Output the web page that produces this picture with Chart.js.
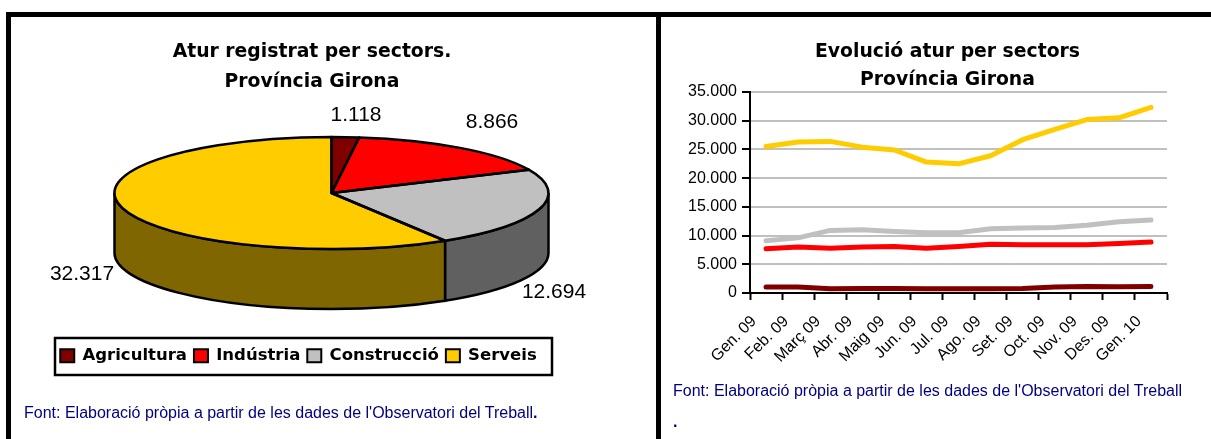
<!DOCTYPE html>
<html>
<head>
<meta charset="utf-8">
<title>Atur per sectors</title>
<script src="https://cdn.jsdelivr.net/npm/chart.js@4/dist/chart.umd.min.js"></script>
<style>
    html, body { margin: 0; padding: 0; background: #fff; overflow: hidden; }
    body { position: relative; width: 1211px; height: 439px; }
    canvas { position: absolute; top: 0; }
    #pieChart { left: 0; }
    #lineChart { left: 684px; }
    .bar { position: absolute; background: #000; }
    .font { position: absolute; color: #000080; font: 16px "Liberation Sans", Arial, sans-serif; white-space: nowrap; }
    .dot { font-weight: bold; }
</style>
</head>
<body>
<canvas id="pieChart" width="624" height="439"></canvas>
<canvas id="lineChart" width="527" height="439"></canvas>
<div class="bar" style="left:6px;top:12px;width:1205px;height:5px"></div>
<div class="bar" style="left:6px;top:12px;width:5px;height:427px"></div>
<div class="bar" style="left:656px;top:12px;width:5px;height:427px"></div>
<div class="font" style="left:24px;top:404px">Font: Elaboració pròpia a partir de les dades de l'Observatori del Treball<span class="dot">.</span></div>
<div class="font" style="left:673px;top:382px">Font: Elaboració pròpia a partir de les dades de l'Observatori del Treball</div>
<div class="font dot" style="left:673px;top:413px">.</div>
<script>
const sectors = ['Agricultura', 'Indústria', 'Construcció', 'Serveis'];
const sectorValues = [1118, 8866, 12694, 32317];
const sectorColors = ['#800000', '#ff0000', '#c0c0c0', '#ffcc00'];

const months = ['Gen. 09', 'Feb. 09', 'Març 09', 'Abr. 09', 'Maig 09', 'Jun. 09', 'Jul. 09', 'Ago. 09', 'Set. 09', 'Oct. 09', 'Nov. 09', 'Des. 09', 'Gen. 10'];
const agricultura = [1050, 1050, 750, 800, 800, 750, 750, 750, 800, 1050, 1150, 1100, 1118];
const industria = [7700, 8000, 7800, 8000, 8100, 7800, 8100, 8500, 8400, 8400, 8400, 8600, 8866];
const construccio = [9100, 9600, 10900, 11000, 10700, 10500, 10500, 11200, 11300, 11400, 11800, 12400, 12694];
const serveis = [25500, 26300, 26400, 25400, 24900, 22800, 22500, 23900, 26700, 28500, 30200, 30500, 32317];

// on-screen ellipse of the pie top, and where its value labels sit
const pieBox = { x: 331.5, y: 193, rx: 217, ry: 56, depth: 60 };
const labelSpots = [[356, 115], [492, 122], [554, 292], [82, 274]];
const legendRect = { left: 55, top: 338, right: 552, bottom: 375 };

function dotted(value) {
    return String(value).replace(/\B(?=(\d{3})+$)/g, '.');
}

function halfColor(hex) {
    const n = parseInt(hex.slice(1), 16);
    return `rgb(${(n >> 16 & 255) >> 1}, ${(n >> 8 & 255) >> 1}, ${(n & 255) >> 1})`;
}

const pie3d = {
    id: 'pie3d',
    afterLayout(chart) {
        // the legend gets a fixed framed box instead of the full chart width
        Object.assign(chart.legend, legendRect);
        chart.legend.left -= 5;
        chart.legend.right -= 5;
        chart.legend.top += 2.5;
    },
    beforeDatasetsDraw(chart) {
        const ctx = chart.ctx;
        const arcs = chart.getDatasetMeta(0).data;
        ctx.save();
        ctx.lineWidth = 2.5;
        ctx.strokeStyle = '#000';
        arcs.forEach(function (arc) {
            const from = Math.max(arc.startAngle, 0);
            const to = Math.min(arc.endAngle, Math.PI);
            if (to <= from) {
                return;
            }
            ctx.beginPath();
            ctx.ellipse(pieBox.x, pieBox.y, pieBox.rx, pieBox.ry, 0, from, to);
            ctx.ellipse(pieBox.x, pieBox.y + pieBox.depth, pieBox.rx, pieBox.ry, 0, to, from, true);
            ctx.closePath();
            ctx.fillStyle = halfColor(arc.options.backgroundColor);
            ctx.fill();
            ctx.stroke();
        });
        ctx.restore();

        const first = arcs[0];
        ctx.save();
        ctx.translate(pieBox.x, pieBox.y);
        ctx.scale(pieBox.rx / first.outerRadius, pieBox.ry / first.outerRadius);
        ctx.translate(-first.x, -first.y);
    },
    afterDatasetsDraw(chart) {
        const ctx = chart.ctx;
        const arcs = chart.getDatasetMeta(0).data;
        ctx.restore();

        ctx.save();
        ctx.lineWidth = 2.5;
        ctx.strokeStyle = '#000';
        ctx.lineJoin = 'round';
        arcs.forEach(function (arc) {
            ctx.beginPath();
            ctx.moveTo(pieBox.x, pieBox.y);
            ctx.ellipse(pieBox.x, pieBox.y, pieBox.rx, pieBox.ry, 0, arc.startAngle, arc.endAngle);
            ctx.closePath();
            ctx.stroke();
        });
        ctx.fillStyle = '#000';
        ctx.font = '21px "Liberation Sans", Arial, sans-serif';
        ctx.textAlign = 'center';
        ctx.textBaseline = 'middle';
        sectorValues.forEach(function (value, i) {
            ctx.fillText(dotted(value), labelSpots[i][0], labelSpots[i][1]);
        });
        ctx.restore();
    },
    beforeDraw(chart) {
        const ctx = chart.ctx;
        ctx.save();
        ctx.strokeStyle = '#000';
        ctx.lineWidth = 2.5;
        ctx.strokeRect(legendRect.left, legendRect.top, legendRect.right - legendRect.left, legendRect.bottom - legendRect.top);
        ctx.restore();
    }
};

const shiftTitle = {
    id: 'shiftTitle',
    afterLayout(chart) {
        // title is centred a little right of the padded chart width
        chart.titleBlock.left += 22;
        chart.titleBlock.right += 22;
    }
};

new Chart(document.getElementById('pieChart').getContext('2d'), {
    type: 'pie',
    plugins: [pie3d],
    data: {
        labels: sectors,
        datasets: [{
            data: sectorValues,
            backgroundColor: sectorColors,
            borderWidth: 0
        }]
    },
    options: {
        responsive: false,
        animation: false,
        plugins: {
            tooltip: { enabled: false },
            title: {
                display: true,
                text: ['Atur registrat per sectors.', 'Província Girona'],
                color: '#000',
                font: { family: '"DejaVu Sans"', size: 18.8, weight: 'bold', lineHeight: 1.55 },
                padding: { top: 38, bottom: 0 }
            },
            legend: {
                position: 'bottom',
                labels: {
                    color: '#000',
                    font: { family: '"DejaVu Sans"', size: 16.5, weight: 'bold' },
                    boxWidth: 14,
                    boxHeight: 13,
                    padding: 7,
                    generateLabels(chart) {
                        return Chart.overrides.pie.plugins.legend.labels.generateLabels(chart).map(function (item) {
                            item.strokeStyle = '#000';
                            item.lineWidth = 2;
                            return item;
                        });
                    }
                }
            }
        }
    }
});

new Chart(document.getElementById('lineChart').getContext('2d'), {
    type: 'line',
    plugins: [shiftTitle],
    data: {
        labels: months,
        datasets: [
            { label: 'Agricultura', data: agricultura, borderColor: sectorColors[0] },
            { label: 'Indústria', data: industria, borderColor: sectorColors[1] },
            { label: 'Construcció', data: construccio, borderColor: sectorColors[2] },
            { label: 'Serveis', data: serveis, borderColor: sectorColors[3] }
        ]
    },
    options: {
        responsive: false,
        animation: false,
        layout: { padding: { right: 44 } },
        datasets: {
            line: { borderWidth: 5, pointRadius: 0, tension: 0, borderCapStyle: 'round', borderJoinStyle: 'round', clip: false }
        },
        plugins: {
            legend: { display: false },
            tooltip: { enabled: false },
            title: {
                display: true,
                text: ['Evolució atur per sectors', 'Província Girona'],
                color: '#000',
                font: { family: '"DejaVu Sans"', size: 18.8, weight: 'bold', lineHeight: 1.49 },
                padding: { top: 38, bottom: -2 }
            }
        },
        scales: {
            x: {
                offset: true,
                grid: { offset: true, drawOnChartArea: false, color: '#000', tickColor: '#000', tickLength: 7, tickWidth: 2 },
                border: { color: '#000', width: 2 },
                ticks: {
                    color: '#000',
                    font: { family: '"Liberation Sans", Arial, sans-serif', size: 16 },
                    minRotation: 45,
                    maxRotation: 45,
                    autoSkip: false,
                    padding: 12,
                    labelOffset: -12
                },
                afterFit(scale) { scale.height = 146; }
            },
            y: {
                min: 0,
                max: 35000,
                grid: { color: '#c0c0c0', lineWidth: 2, tickColor: '#000', tickLength: 8, tickWidth: 2 },
                border: { color: '#000', width: 2 },
                ticks: {
                    stepSize: 5000,
                    color: '#000',
                    font: { family: '"Liberation Sans", Arial, sans-serif', size: 16 },
                    padding: 5,
                    callback: dotted
                },
                afterFit(scale) { scale.width = 66; }
            }
        }
    }
});
</script>
</body>
</html>
